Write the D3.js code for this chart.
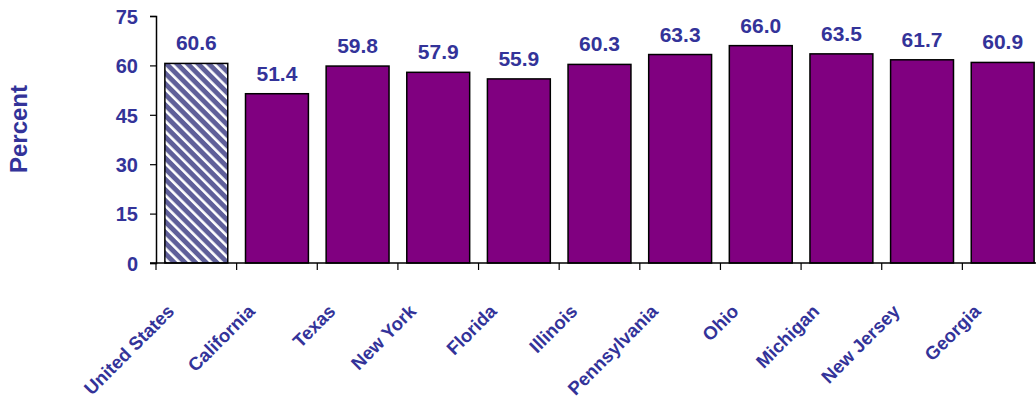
<!DOCTYPE html>
<html>
<head>
<meta charset="utf-8">
<script src="https://cdn.jsdelivr.net/npm/d3@7"></script>
<style>
  body { margin: 0; background: #fff; }
  svg { display: block; font-family: "Liberation Sans", Arial, sans-serif; font-weight: bold; }
</style>
</head>
<body>
<div id="chart"></div>
<script>
// data
const categories = ["United States", "California", "Texas", "New York", "Florida", "Illinois",
  "Pennsylvania", "Ohio", "Michigan", "New Jersey", "Georgia"];
const values = [60.6, 51.4, 59.8, 57.9, 55.9, 60.3, 63.3, 66.0, 63.5, 61.7, 60.9];
const yTicks = [0, 15, 30, 45, 60, 75];

const width = 1036, height = 400;
const textColor = "#333399";

const svg = d3.select("#chart").append("svg")
  .attr("width", width)
  .attr("height", height);

// hatch for the US bar
const pattern = svg.append("defs").append("pattern")
  .attr("id", "hatch")
  .attr("patternUnits", "userSpaceOnUse")
  .attr("width", 7.5)
  .attr("height", 7.5)
  .attr("patternTransform", "rotate(-45)");
pattern.append("rect").attr("width", 7.5).attr("height", 7.5).attr("fill", "#5f5f99");
pattern.append("rect").attr("width", 2.6).attr("height", 7.5).attr("fill", "#ffffff");

const x = d3.scaleBand()
  .domain(categories)
  .range([156, 1043])
  .paddingInner(0.22)
  .paddingOuter(0.11);

const y = d3.scaleLinear()
  .domain([0, 75])
  .range([263, 16]);

// bars
svg.append("g")
  .selectAll("rect")
  .data(values)
  .join("rect")
  .attr("x", (d, i) => x(categories[i]))
  .attr("y", d => y(d))
  .attr("width", x.bandwidth())
  .attr("height", d => y(0) - y(d))
  .attr("fill", (d, i) => i === 0 ? "url(#hatch)" : "#800080")
  .attr("stroke", "#000")
  .attr("stroke-width", 1.5);

// value labels
svg.append("g")
  .selectAll("text")
  .data(values)
  .join("text")
  .attr("x", (d, i) => x(categories[i]) + x.bandwidth() / 2)
  .attr("y", d => y(d) - 13)
  .attr("text-anchor", "middle")
  .attr("fill", textColor)
  .style("font-size", "21px")
  .text(d => d.toFixed(1));

// y axis
const yAxis = svg.append("g")
  .attr("transform", "translate(156,0)")
  .call(d3.axisLeft(y).tickValues(yTicks).tickSize(6).tickPadding(12));
yAxis.select(".domain").attr("stroke", "#000").attr("stroke-width", 1.5);
yAxis.selectAll(".tick line").attr("stroke", "#000").attr("stroke-width", 1.2);
yAxis.selectAll("text")
  .attr("fill", textColor)
  .style("font-size", "20px")
  .style("font-weight", "bold")
  .attr("dy", "0.36em");

// x axis line and boundary ticks
const boundaries = categories.map(c => x(c) - x.step() * x.paddingInner() / 2);
svg.append("line")
  .attr("x1", 150).attr("x2", width)
  .attr("y1", y(0)).attr("y2", y(0))
  .attr("stroke", "#000").attr("stroke-width", 1.5);
svg.append("g")
  .selectAll("line")
  .data(boundaries)
  .join("line")
  .attr("x1", d => d).attr("x2", d => d)
  .attr("y1", y(0)).attr("y2", y(0) + 7)
  .attr("stroke", "#000").attr("stroke-width", 1.2);

// slanted category labels
svg.append("g")
  .selectAll("text")
  .data(categories)
  .join("text")
  .attr("transform", d => `translate(${x(d) + x.bandwidth() / 2 - 21},312.5) rotate(-45)`)
  .attr("text-anchor", "end")
  .attr("fill", textColor)
  .style("font-size", "18.5px")
  .text(d => d);

// y title
svg.append("text")
  .attr("transform", "translate(27,129) rotate(-90)")
  .attr("text-anchor", "middle")
  .attr("fill", textColor)
  .style("font-size", "24px")
  .text("Percent");
</script>
</body>
</html>
